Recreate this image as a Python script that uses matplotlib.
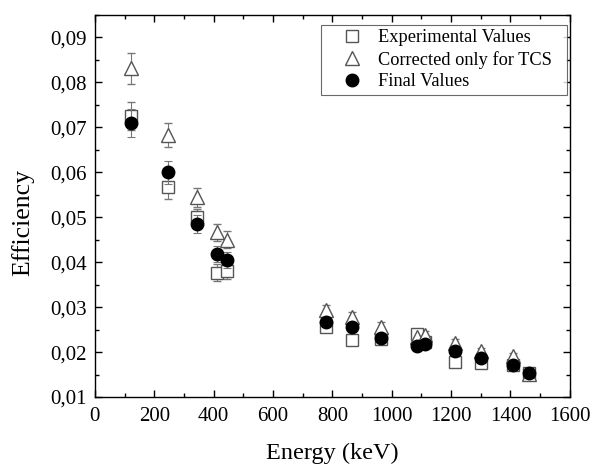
import matplotlib
matplotlib.use('Agg')
import matplotlib.pyplot as plt
from matplotlib.ticker import MultipleLocator, FuncFormatter

plt.rcParams['font.family'] = ['Liberation Serif', 'DejaVu Serif']

# energies of the gamma lines (keV)
energia = [121.8, 244.7, 344.3, 411.1, 444.0, 778.9, 867.4, 964.1,
           1085.8, 1112.1, 1212.9, 1299.1, 1408.0, 1460.8]

# valors experimentals
experimental = [0.0725, 0.0568, 0.0500, 0.0377, 0.0381, 0.0256, 0.0226, 0.0229,
                0.0241, 0.0222, 0.0179, 0.0175, 0.0172, 0.0153]
err_experimental = [0.0031, 0.0027, 0.0018, 0.0018, 0.0019, 0.0010, 0.0009, 0.0009,
                    0.0010, 0.0009, 0.0007, 0.0007, 0.0007, 0.0006]

# corregits només per TCS
corregit_tcs = [0.0831, 0.0683, 0.0544, 0.0466, 0.0450, 0.0293, 0.0279, 0.0256,
                0.0234, 0.0237, 0.0220, 0.0202, 0.0191, 0.0152]
err_corregit_tcs = [0.0035, 0.0027, 0.0021, 0.0018, 0.0019, 0.0012, 0.0011, 0.0010,
                    0.0009, 0.0009, 0.0009, 0.0008, 0.0008, 0.0006]

# valors finals
final = [0.0709, 0.0600, 0.0484, 0.0418, 0.0405, 0.0268, 0.0256, 0.0231,
         0.0213, 0.0218, 0.0202, 0.0187, 0.0172, 0.0154]
err_final = [0.0031, 0.0026, 0.0020, 0.0017, 0.0017, 0.0011, 0.0010, 0.0009,
             0.0009, 0.0009, 0.0008, 0.0008, 0.0007, 0.0006]

fig = plt.figure(figsize=(5.93, 4.66), dpi=100)
ax = fig.add_axes([0.160, 0.148, 0.801, 0.820])

err_kw = dict(ecolor='#777777', elinewidth=0.8, capsize=3, capthick=0.8, linestyle='none')

ax.errorbar(energia, experimental, yerr=err_experimental, marker='s', markersize=8,
            markerfacecolor='white', markeredgecolor='#555555', markeredgewidth=1.0,
            label='Experimental Values', zorder=3, **err_kw)
ax.errorbar(energia, corregit_tcs, yerr=err_corregit_tcs, marker='^', markersize=10,
            markerfacecolor='white', markeredgecolor='#555555', markeredgewidth=1.0,
            label='Corrected only for TCS', zorder=3, **err_kw)
ax.errorbar(energia, final, yerr=err_final, marker='o', markersize=9,
            markerfacecolor='black', markeredgecolor='black',
            label='Final Values', zorder=4, **err_kw)

ax.set_xlim(0, 1600)
ax.set_ylim(0.01, 0.095)
ax.xaxis.set_major_locator(MultipleLocator(200))
ax.xaxis.set_minor_locator(MultipleLocator(100))
ax.yaxis.set_major_locator(MultipleLocator(0.01))
ax.yaxis.set_minor_locator(MultipleLocator(0.005))
ax.yaxis.set_major_formatter(FuncFormatter(lambda v, p: ('%.2f' % v).replace('.', ',')))

ax.tick_params(which='both', direction='in', top=True, right=True, labelsize=15, width=1)
ax.tick_params(which='major', length=5)
ax.tick_params(which='minor', length=3)
ax.tick_params(axis='x', pad=7)
ax.tick_params(axis='y', pad=6)
for s in ax.spines.values():
    s.set_linewidth(1.0)

ax.set_xlabel('Energy (keV)', fontsize=17.5, labelpad=12)
ax.set_ylabel('Efficiency', fontsize=18.5)
ax.yaxis.set_label_coords(-0.128, 0.458)

#llegenda (caixa d'amplada fixa)
handles, labels = ax.get_legend_handles_labels()
handles = [h[0] for h in handles]
leg = ax.legend(handles, labels, loc='upper left', mode='expand',
                bbox_to_anchor=(0.476, 0.774, 0.518, 0.2),
                borderaxespad=0, fontsize=13.2, frameon=True, fancybox=False,
                edgecolor='#444444', borderpad=0.25, labelspacing=0.25,
                handletextpad=0.0, handlelength=2.85)
leg.get_frame().set_linewidth(0.8)

fig.savefig('out.png', dpi=100)
